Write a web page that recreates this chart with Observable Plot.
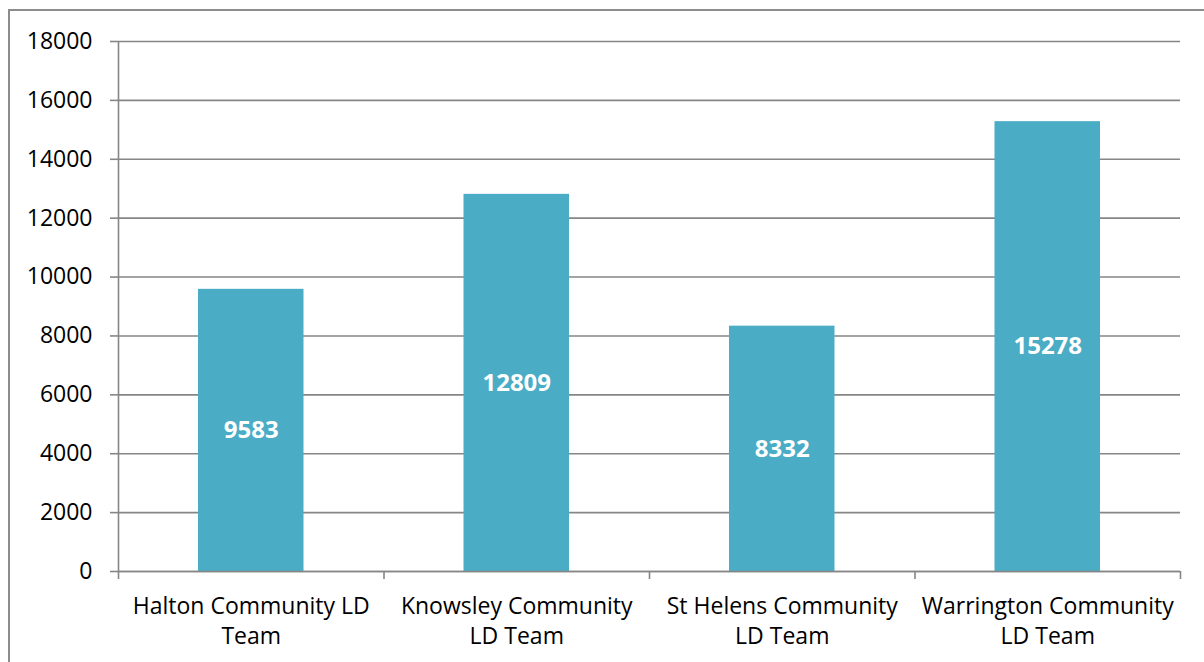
<!DOCTYPE html>
<html>
<head>
<meta charset="utf-8">
<script src="https://cdn.jsdelivr.net/npm/d3@7"></script>
<script src="https://cdn.jsdelivr.net/npm/@observablehq/plot@0.6"></script>
<style>
  html, body { margin: 0; padding: 0; background: #fff; overflow: hidden; }
  #wrap { position: relative; width: 1204px; height: 662px; }
  #frame { position: absolute; left: 8px; top: 9px; width: 1220px; height: 700px; border: 2px solid #8c8c8c; box-sizing: border-box; }
  #chart { position: absolute; left: 0; top: 0; }
</style>
</head>
<body>
<div id="wrap"><div id="frame"></div><div id="chart"></div></div>
<script>
const categories = ["Halton Community LD\nTeam", "Knowsley Community\nLD Team", "St Helens Community\nLD Team", "Warrington Community\nLD Team"];
const values = [9583, 12809, 8332, 15278];
const yTicks = [0, 2000, 4000, 6000, 8000, 10000, 12000, 14000, 16000, 18000];

const data = categories.map((c, i) => ({name: c, i, value: values[i]}));
const font = "'Open Sans', sans-serif";

const chart = Plot.plot({
  width: 1204,
  height: 662,
  marginLeft: 118,
  marginRight: 24,
  marginTop: 41,
  marginBottom: 91,
  style: {fontFamily: font, fontSize: "23px", color: "#000", background: "transparent"},
  x: {type: "linear", domain: [0, categories.length]},
  y: {domain: [0, 18000]},
  marks: [
    Plot.gridY(yTicks, {stroke: "#868686", strokeOpacity: 1, strokeWidth: 1.6}),
    Plot.rectY(data, {x1: d => d.i, x2: d => d.i + 1, y: "value", fill: "#4BACC6", insetLeft: 80, insetRight: 80}),
    Plot.ruleX([0], {stroke: "#868686", strokeWidth: 1.6}),
    Plot.ruleY([0], {stroke: "#868686", strokeWidth: 1.6}),
    Plot.axisY(yTicks, {tickSize: 8, tickPadding: 18, stroke: "#868686", strokeWidth: 1.6, fill: "#000", fontSize: 23, tickFormat: d => String(d), label: null}),
    Plot.axisX(d3.range(categories.length + 1), {tickSize: 8, stroke: "#868686", strokeWidth: 1.6, tickFormat: () => "", label: null}),
    Plot.axisX(data.map(d => d.i + 0.5), {tickSize: 0, tickPadding: 21, fill: "#000", fontSize: 23, lineHeight: 1.3, tickFormat: v => categories[Math.floor(v)], label: null}),
    Plot.text(data, {x: d => d.i + 0.5, y: d => d.value / 2, text: d => String(d.value), fill: "#fff", fontWeight: "bold", fontSize: 24})
  ]
});
document.getElementById("chart").appendChild(chart);
</script>
</body>
</html>
